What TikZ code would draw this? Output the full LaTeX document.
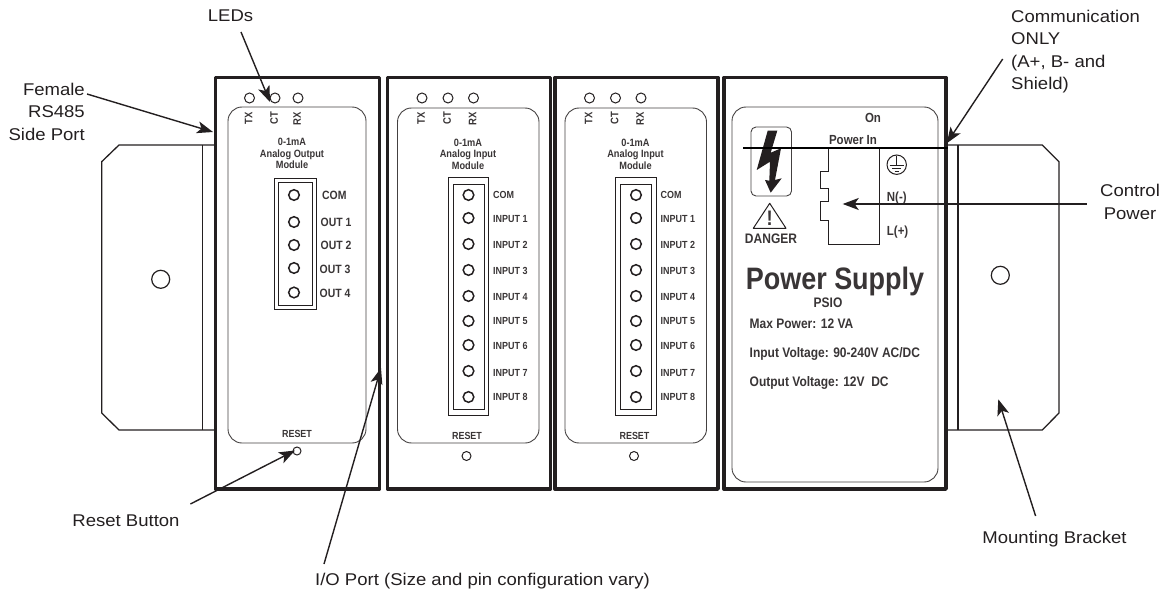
\documentclass[tikz,border=0pt]{standalone}
\usepackage{fontspec}
\setmainfont{Liberation Sans}
\newfontfamily\lab[FakeStretch=1.09]{Liberation Sans}
\newfontfamily\cond[FakeStretch=.87]{Liberation Sans}
\usetikzlibrary{arrows.meta}
\definecolor{ink}{HTML}{231F20}
\tikzset{
  wall/.style={draw=ink,line width=3.4pt,line join=round},
  panel/.style={draw=ink!85,line width=0.9pt,rounded corners=14pt},
  thinline/.style={draw=ink,line width=1pt},
  bracket/.style={draw=ink,line width=1.3pt},
  hole/.style={draw=ink,line width=1pt},
  pin/.style={draw=ink,line width=1.5pt},
  lead/.style={draw=ink,line width=1.4pt,-{Stealth[length=16pt,width=12pt,inset=4pt]}},
  note/.style={font=\lab\fontsize{17}{22.5}\selectfont,text=ink,inner sep=0pt},
  tag/.style={font=\cond\bfseries\fontsize{#1}{#1}\selectfont,text=ink!90,inner sep=0pt,
    /utils/exec={\pgfmathsetlengthmacro\taght{0.716*#1}},text height=\taght,text depth=0pt},
  title/.style={font=\cond\bfseries\fontsize{10.6}{11.5}\selectfont,text=ink!90,inner sep=0pt,align=center},
}
\begin{document}
\begin{tikzpicture}[x=1pt,y=-1pt]
\useasboundingbox (0,0) rectangle (1172,596);
% brackets
\draw[bracket] (215,145) -- (119,145) -- (101.7,161.7) -- (101.7,413) -- (119,430) -- (215,430);
\draw[bracket] (202.7,145) -- (202.7,430);
\draw[hole,line width=1.2pt] (160.7,279.3) circle (9);
\draw[bracket] (946,145) -- (1042.3,145) -- (1059,161.7) -- (1059,413) -- (1042.3,430) -- (946,430);
\draw[bracket] (958,145) -- (958,430);
\draw[hole,line width=1.2pt] (1000.3,275.3) circle (9);
% module walls
\draw[wall] (215.5,77.5) rectangle (379.5,489);
\draw[wall] (387.5,77.5) rectangle (550.5,489);
\draw[wall] (555,77.5) rectangle (718,489);
\draw[wall] (724,77.5) rectangle (946,489);
% output module
\draw[panel] (228,107) rectangle (366,443);
\foreach \x/\t in {249.5/TX,275/CT,298/RX}{
  \draw[hole] (\x,98) circle (5);
  \node[tag=10.9,rotate=90] at (\x-1,118.5) {\t};
}
\node[title] at (292,153.5) {0-1mA\\Analog Output\\Module};
\draw[thinline] (274,178.5) rectangle (316,309);
\draw[thinline] (278.5,182.5) rectangle (312,305);
\foreach \y in {195,222,245,268,292.5}{\draw[pin] (294,\y) circle (5.3);}
\node[tag=12,anchor=west] at (322,195) {COM};
\node[tag=12,anchor=west] at (320.5,222) {OUT 1};
\node[tag=12,anchor=west] at (320.5,245) {OUT 2};
\node[tag=12,anchor=west] at (319.5,269) {OUT 3};
\node[tag=12,anchor=west] at (319.5,293) {OUT 4};
\node[tag=10.3] at (297,434) {RESET};
\draw[hole] (297,451) circle (4);
% input modules
\foreach \d in {0,167.5}{
  \begin{scope}[xshift=\d pt]
    \draw[panel] (397.5,108) rectangle (539,443);
    \foreach \x/\t in {422/TX,448/CT,473.5/RX}{
      \draw[hole] (\x,98) circle (5);
      \node[tag=10.9,rotate=90] at (\x-1,118.5) {\t};
    }
    \node[title] at (468,154) {0-1mA\\Analog Input\\Module};
    \draw[thinline] (448,178) rectangle (488.7,415);
    \draw[thinline] (453,184.5) rectangle (484,409);
    \foreach \y/\l/\t in {195/195/COM,218/219/INPUT 1,244/245/INPUT 2,270/271/INPUT 3,296/297/INPUT 4,321/321/INPUT 5,345/346/INPUT 6,371/373/INPUT 7,397/397/INPUT 8}{
      \draw[pin] (468.5,\y) circle (5.3);
      \node[tag=10.3,anchor=west] at (493,\l) {\t};
    }
    \node[tag=10.3] at (467,435.5) {RESET};
    \draw[hole] (466.5,456) circle (4.5);
  \end{scope}
}
% power supply
\draw[panel] (732,107) rectangle (938,482);
\node[tag=13.2] at (873,118) {On};
\node[tag=13.2] at (853,140) {Power In};
\draw[draw=ink!85,line width=0.9pt,rounded corners=5pt] (751,127) rectangle (791.5,196);
\fill[ink] (767.7,130.7) -- (777.3,130.7) -- (770.7,152.7) -- (781,148.3) -- (775,180) -- (781.7,178.3) -- (770.7,192.7) -- (765,180) -- (769.3,180.7) -- (770,161.7) -- (756.7,170) -- cycle;
\draw[thinline,line join=round] (769.7,203.3) -- (753.3,228.3) -- (786,228.3) -- cycle;
\node[tag=21] at (769.7,218) {!};
\node[tag=13.8] at (771,239) {DANGER};
\draw[thinline] (828.7,148) -- (828.7,171.7) -- (820,171.7) -- (820,189) -- (828.7,189) -- (828.7,202) -- (820,202) -- (820,220) -- (828.7,220) -- (828.7,244) -- (879,244) -- (879,148);
\draw[thinline] (896.7,164.7) circle (9.7);
\draw[thinline] (896.7,156) -- (896.7,166) (889.7,166) -- (903.7,166);
\draw[thinline] (892.2,169) -- (901.2,169) (894.7,172) -- (898.7,172);
\node[tag=13.2,anchor=west] at (886.7,197) {N(-)};
\node[tag=13.2,anchor=west] at (886.7,231) {L(+)};
\draw[draw=black,line width=1.7pt] (743,148) -- (947.7,148);
\node[tag=31] at (835,278) {Power Supply};
\node[tag=13.8] at (828,302.7) {PSIO};
\node[tag=13.8,anchor=west] at (749.5,324) {Max Power: 12 VA};
\node[tag=13.8,anchor=west] at (749.5,352.7) {Input Voltage: 90-240V AC/DC};
\node[tag=13.8,anchor=west] at (749.5,381.7) {Output Voltage: 12V\ \ DC};
% callouts
\node[note] (leds) at (230.5,15.5) {LEDs};
\node[note,align=right,anchor=east] (female) at (85,111.5) {Female\\RS485\\Side Port};
\node[note,align=left,anchor=west] (comm) at (1011,51.5) {Communication\\ONLY\\(A+, B- and\\Shield)};
\node[note,align=center] (ctrl) at (1130,202) {Control\\Power};
\node[note] (rstb) at (126,521) {Reset Button};
\node[note] (io) at (482.5,581.5) {I/O Port (Size and pin configuration vary)};
\node[note] (mb) at (1054.5,539) {Mounting Bracket};
\coordinate (ledtail) at (241,32);
\coordinate (ledtip) at (270,102);
\coordinate (ftail) at (87,94);
\coordinate (ftip) at (213,132);
\coordinate (ctail) at (1002.7,59);
\coordinate (ctip) at (946.7,143.3);
\coordinate (ptail) at (1086.7,204);
\coordinate (ptip) at (842.7,204);
\coordinate (rtail) at (190.4,504);
\coordinate (rtip) at (295,450.5);
\coordinate (iotail) at (324,564);
\coordinate (iotip) at (381,368);
\coordinate (mtail) at (1035.6,516);
\coordinate (mtip) at (998.3,399.3);
\draw[lead] (ledtail) -- (ledtip);
\draw[lead] (ftail) -- (ftip);
\draw[lead] (ctail) -- (ctip);
\draw[lead] (ptail) -- (ptip);
\draw[lead] (rtail) -- (rtip);
\draw[lead] (iotail) -- (iotip);
\draw[lead] (mtail) -- (mtip);
\end{tikzpicture}
\end{document}
